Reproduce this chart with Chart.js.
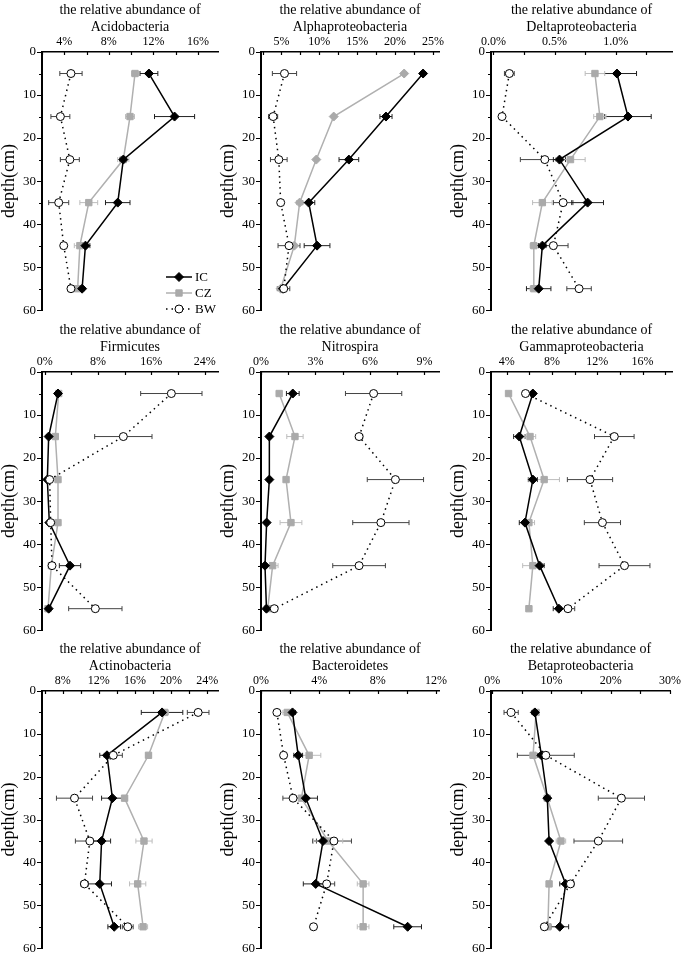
<!DOCTYPE html>
<html lang="en">
<head>
  <meta charset="UTF-8">
  <title>relative abundance by depth</title>
  <script src="https://cdn.jsdelivr.net/npm/chart.js"></script>
  <style>
    body { margin: 0; background: #ffffff; }
    #wrap { position: relative; width: 685px; height: 961px; overflow: hidden; }
    #wrap canvas { position: absolute; }
  </style>
</head>
<body>
<div id="wrap"></div>
<script>
  // sampling depths (cm)
  const depths = [5, 15, 25, 35, 45, 55];

  // Acidobacteria (%)
  const acidoIC = [11.6, 13.9, 9.3, 8.8, 5.9, 5.6];
  const acidoICerr = [0.8, 1.8, 0.3, 1.1, 0.4, 0.2];
  const acidoCZ = [10.35, 9.9, 9.3, 6.2, 5.4, 5.2];
  const acidoCZerr = [0.3, 0.4, 0.5, 0.8, 0.5, 0.3];
  const acidoBW = [4.6, 3.65, 4.5, 3.5, 3.95, 4.6];
  const acidoBWerr = [1.0, 0.85, 0.85, 0.9, 0.1, 0.3];
  const acidoTicks = [4, 8, 12, 16];

  // Alphaproteobacteria (%)
  const alphaIC = [23.7, 18.8, 13.9, 8.6, 9.7, 5.2];
  const alphaICerr = [0.3, 0.8, 1.3, 0.8, 1.7, 0.2];
  const alphaCZ = [21.2, 11.9, 9.6, 7.4, 6.7, 4.9];
  const alphaCZerr = [0.2, 0.2, 0.2, 0.4, 0.3, 0.5];
  const alphaBW = [5.4, 3.9, 4.65, 4.9, 6.0, 5.3];
  const alphaBWerr = [1.6, 0.6, 1.1, 0, 1.45, 0.8];
  const alphaTicks = [5, 10, 15, 20, 25];

  // Deltaproteobacteria (%)
  const deltaIC = [1.01, 1.10, 0.54, 0.77, 0.40, 0.37];
  const deltaICerr = [0.16, 0.19, 0.05, 0.13, 0.03, 0.1];
  const deltaCZ = [0.83, 0.87, 0.63, 0.40, 0.33, 0.33];
  const deltaCZerr = [0.08, 0.05, 0.12, 0.08, 0.03, 0.03];
  const deltaBW = [0.13, 0.07, 0.42, 0.57, 0.49, 0.70];
  const deltaBWerr = [0.04, 0.02, 0.2, 0.08, 0.12, 0.1];
  const deltaTicks = [0, 0.5, 1.0];

  // Firmicutes (%)
  const firmIC = [2.0, 0.6, 0.4, 0.7, 3.8, 0.6];
  const firmICerr = [0.3, 0.3, 0.2, 0.3, 1.6, 0.2];
  const firmCZ = [2.1, 1.6, 2.0, 2.0, 1.0, 0.5];
  const firmCZerr = [0.4, 0.3, 0.3, 0.3, 0.3, 0.3];
  const firmBW = [19.0, 11.8, 0.75, 0.9, 1.1, 7.6];
  const firmBWerr = [4.6, 4.3, 0.4, 0.3, 0.3, 4.0];
  const firmTicks = [0, 8, 16, 24];

  // Nitrospira (%)
  const nitroIC = [1.75, 0.46, 0.46, 0.31, 0.22, 0.3];
  const nitroICerr = [0.35, 0.1, 0.1, 0.1, 0.1, 0.1];
  const nitroCZ = [1.0, 1.87, 1.38, 1.65, 0.64, 0.37];
  const nitroCZerr = [0.1, 0.45, 0.1, 0.6, 0.3, 0.1];
  const nitroBW = [6.2, 5.4, 7.4, 6.6, 5.4, 0.73];
  const nitroBWerr = [1.55, 0.2, 1.55, 1.55, 1.45, 0.1];
  const nitroTicks = [0, 3, 6, 9];

  // Gammaproteobacteria (%)
  const gammaIC = [6.3, 5.1, 6.3, 5.6, 6.9, 8.6];
  const gammaICerr = [0.2, 0.5, 0.4, 0.5, 0.4, 0.5];
  const gammaCZ = [4.15, 6.05, 7.3, 5.95, 6.3, 5.95];
  const gammaCZerr = [0.2, 0.5, 1.35, 0.5, 0.9, 0.2];
  const gammaBW = [5.65, 13.5, 11.35, 12.45, 14.4, 9.4];
  const gammaBWerr = [0.1, 1.75, 2.0, 1.6, 2.25, 0.6];
  const gammaTicks = [4, 8, 12, 16];

  // Actinobacteria (%)
  const actinoIC = [19.0, 12.9, 13.5, 12.3, 12.1, 13.7];
  const actinoICerr = [2.3, 0.8, 1.2, 1.0, 1.3, 0.7];
  const actinoCZ = [19.3, 17.5, 14.85, 17.0, 16.3, 16.9];
  const actinoCZerr = [0.4, 0.3, 0.3, 0.9, 0.9, 0.5];
  const actinoBW = [23.0, 13.6, 9.3, 11.0, 10.4, 15.2];
  const actinoBWerr = [1.2, 1.0, 2.0, 1.6, 0.4, 0.6];
  const actinoTicks = [8, 12, 16, 20, 24];

  // Bacteroidetes (%)
  const bactIC = [2.16, 2.55, 3.07, 4.25, 3.75, 10.05];
  const bactICerr = [0.2, 0.3, 0.8, 0.7, 0.85, 0.95];
  const bactCZ = [1.8, 3.3, 2.77, 4.6, 7.0, 7.0];
  const bactCZerr = [0.3, 0.8, 0.5, 1.0, 0.4, 0.4];
  const bactBW = [1.09, 1.55, 2.2, 5.0, 4.5, 3.6];
  const bactBWerr = [0.2, 0.2, 0.7, 1.2, 0.55, 0];
  const bactTicks = [0, 4, 8, 12];

  // Betaproteobacteria (%)
  const betaIC = [7.2, 8.3, 9.3, 9.6, 12.4, 11.4];
  const betaICerr = [0.5, 0.6, 0.5, 0.3, 1.0, 1.5];
  const betaCZ = [7.4, 6.9, 9.3, 11.6, 9.6, 9.4];
  const betaCZerr = [0.5, 0.5, 0.3, 0.8, 0.3, 0.3];
  const betaBW = [3.2, 9.05, 21.8, 17.9, 13.2, 8.8];
  const betaBWerr = [1.2, 4.8, 3.9, 4.1, 0.6, 0.5];
  const betaTicks = [0, 10, 20, 30];

  const panels = [
    { name: 'Acidobacteria', ic: acidoIC, icErr: acidoICerr, cz: acidoCZ, czErr: acidoCZerr, bw: acidoBW, bwErr: acidoBWerr, ticks: acidoTicks, min: 2, max: 17.8, dec: 0 },
    { name: 'Alphaproteobacteria', ic: alphaIC, icErr: alphaICerr, cz: alphaCZ, czErr: alphaCZerr, bw: alphaBW, bwErr: alphaBWerr, ticks: alphaTicks, min: 2.3, max: 25.8, dec: 0, czStyle: 'rectRot' },
    { name: 'Deltaproteobacteria', ic: deltaIC, icErr: deltaICerr, cz: deltaCZ, czErr: deltaCZerr, bw: deltaBW, bwErr: deltaBWerr, ticks: deltaTicks, min: -0.02, max: 1.46, dec: 1 },
    { name: 'Firmicutes', ic: firmIC, icErr: firmICerr, cz: firmCZ, czErr: firmCZerr, bw: firmBW, bwErr: firmBWerr, ticks: firmTicks, min: -0.4, max: 26, dec: 0 },
    { name: 'Nitrospira', ic: nitroIC, icErr: nitroICerr, cz: nitroCZ, czErr: nitroCZerr, bw: nitroBW, bwErr: nitroBWerr, ticks: nitroTicks, min: 0, max: 9.8, dec: 0 },
    { name: 'Gammaproteobacteria', ic: gammaIC, icErr: gammaICerr, cz: gammaCZ, czErr: gammaCZerr, bw: gammaBW, bwErr: gammaBWerr, ticks: gammaTicks, min: 2.6, max: 18.6, dec: 0 },
    { name: 'Actinobacteria', ic: actinoIC, icErr: actinoICerr, cz: actinoCZ, czErr: actinoCZerr, bw: actinoBW, bwErr: actinoBWerr, ticks: actinoTicks, min: 5.7, max: 25.2, dec: 0 },
    { name: 'Bacteroidetes', ic: bactIC, icErr: bactICerr, cz: bactCZ, czErr: bactCZerr, bw: bactBW, bwErr: bactBWerr, ticks: bactTicks, min: 0, max: 12.2, dec: 0 },
    { name: 'Betaproteobacteria', ic: betaIC, icErr: betaICerr, cz: betaCZ, czErr: betaCZerr, bw: betaBW, bwErr: betaBWerr, ticks: betaTicks, min: -0.2, max: 30, dec: 0 }
  ];

  const FONT = "'Liberation Serif', 'Times New Roman', serif";
  // plot area edges in page pixels
  const colLeft = [42, 261, 491];
  const colRight = [218, 439, 672];
  const rowTop = [52, 372, 691];
  const rowBottom = [316, 636, 954];
  const TITLE_H = 2 + 2 * 14 * 1.2;

  function marker(ctx, style, x, y, r) {
    ctx.beginPath();
    if (style === 'circle') {
      ctx.arc(x, y, r, 0, Math.PI * 2);
    } else if (style === 'rectRot') {
      ctx.moveTo(x, y - r); ctx.lineTo(x + r, y); ctx.lineTo(x, y + r); ctx.lineTo(x - r, y); ctx.closePath();
    } else {
      const s = r * Math.SQRT1_2;
      ctx.rect(x - s, y - s, 2 * s, 2 * s);
    }
    ctx.fill();
    ctx.stroke();
  }

  // horizontal error bars with caps
  const errorBars = {
    id: 'errorBars',
    beforeDatasetsDraw(chart) {
      const ctx = chart.ctx, xs = chart.scales.x, ys = chart.scales.y;
      chart.data.datasets.forEach(ds => {
        ctx.save();
        ctx.strokeStyle = ds.errColor;
        ctx.lineWidth = 1;
        ds.data.forEach((pt, k) => {
          const e = ds.errors[k];
          if (!e) return;
          const x1 = xs.getPixelForValue(pt.x - e);
          const x2 = xs.getPixelForValue(pt.x + e);
          const y = ys.getPixelForValue(pt.y);
          ctx.beginPath();
          ctx.moveTo(x1, y); ctx.lineTo(x2, y);
          ctx.moveTo(x1, y - 2.5); ctx.lineTo(x1, y + 2.5);
          ctx.moveTo(x2, y - 2.5); ctx.lineTo(x2, y + 2.5);
          ctx.stroke();
        });
        ctx.restore();
      });
    }
  };

  function tickPlugin(p) {
    return {
      id: 'tickMarks',
      afterDraw(chart) {
        const ctx = chart.ctx, xs = chart.scales.x, ys = chart.scales.y, a = chart.chartArea;
        const step = (p.ticks[1] - p.ticks[0]) / 2;
        ctx.save();
        ctx.strokeStyle = '#000';
        ctx.lineWidth = 1.2;
        ctx.beginPath();
        for (let v = p.ticks[0] - step * Math.floor((p.ticks[0] - p.min) / step); v <= p.max + 1e-9; v += step) {
          const x = Math.round(xs.getPixelForValue(v)) + 0.5;
          ctx.moveTo(x, a.top); ctx.lineTo(x, a.top + 3);
        }
        for (let d = 0; d <= 60; d += 5) {
          const y = Math.round(ys.getPixelForValue(d)) + 0.5;
          const len = d % 10 === 0 ? 5 : 3;
          ctx.moveTo(a.left - len, y); ctx.lineTo(a.left, y);
        }
        ctx.stroke();
        ctx.restore();
      }
    };
  }

  // legend in the first panel, bottom right
  const profileLegend = {
    id: 'profileLegend',
    afterDraw(chart) {
      const ctx = chart.ctx;
      const rows = [
        { label: 'IC', y: 277, line: '#000', dash: [], style: 'rectRot', fill: '#000', stroke: '#000', r: 4.5 },
        { label: 'CZ', y: 293, line: '#b0b0b0', dash: [], style: 'rect', fill: '#aaaaaa', stroke: '#aaaaaa', r: 4.5 },
        { label: 'BW', y: 309, line: '#000', dash: [1.5, 4], style: 'circle', fill: '#fff', stroke: '#000', r: 4 }
      ];
      ctx.save();
      rows.forEach(row => {
        ctx.strokeStyle = row.line;
        ctx.lineWidth = 1.5;
        ctx.setLineDash(row.dash);
        ctx.beginPath(); ctx.moveTo(166, row.y); ctx.lineTo(192, row.y); ctx.stroke();
        ctx.setLineDash([]);
        ctx.fillStyle = row.fill;
        ctx.strokeStyle = row.stroke;
        ctx.lineWidth = 1;
        marker(ctx, row.style, 179, row.y, row.r);
        ctx.fillStyle = '#000';
        ctx.font = '13px ' + FONT;
        ctx.textBaseline = 'middle';
        ctx.textAlign = 'left';
        ctx.fillText(row.label, 195, row.y + 1);
      });
      ctx.restore();
    }
  };

  const wrap = document.getElementById('wrap');

  panels.forEach((p, i) => {
    const col = i % 3, row = Math.floor(i / 3);
    const left = colLeft[col] - 42;
    const top = rowTop[row] - 52;
    const width = colRight[col] - left + 12;
    const height = rowBottom[row] - top + 8;

    const canvas = document.createElement('canvas');
    canvas.width = width;
    canvas.height = height;
    canvas.style.left = left + 'px';
    canvas.style.top = top + 'px';
    canvas.style.width = width + 'px';
    canvas.style.height = height + 'px';
    wrap.appendChild(canvas);

    const pts = vals => vals.map((v, k) => ({ x: v, y: depths[k] }));

    const datasets = [
      {
        label: 'BW', data: pts(p.bw), errors: p.bwErr, errColor: '#444',
        showLine: true, borderColor: '#000', borderWidth: 1.5, borderDash: [1.5, 4],
        pointStyle: 'circle', pointRadius: 4, pointBackgroundColor: '#fff', pointBorderColor: '#000', pointBorderWidth: 1,
        clip: false
      },
      {
        label: 'IC', data: pts(p.ic), errors: p.icErr, errColor: '#222',
        showLine: true, borderColor: '#000', borderWidth: 1.5,
        pointStyle: 'rectRot', pointRadius: 4.5, pointBackgroundColor: '#000', pointBorderColor: '#000', pointBorderWidth: 1,
        clip: false
      },
      {
        label: 'CZ', data: pts(p.cz), errors: p.czErr, errColor: '#bdbdbd',
        showLine: true, borderColor: '#b0b0b0', borderWidth: 1.5,
        pointStyle: p.czStyle || 'rect', pointRadius: 4.5, pointBackgroundColor: '#aaaaaa', pointBorderColor: '#aaaaaa', pointBorderWidth: 1,
        clip: false
      }
    ];

    const plugins = [errorBars, tickPlugin(p)];
    if (i === 0) plugins.push(profileLegend);

    new Chart(canvas, {
      type: 'scatter',
      data: { datasets },
      options: {
        responsive: false,
        animation: false,
        devicePixelRatio: 1,
        layout: { padding: { left: 0, right: 12, top: 0, bottom: 8 } },
        plugins: {
          legend: { display: false },
          tooltip: { enabled: false },
          title: {
            display: true,
            fullSize: false,
            text: ['the relative abundance of', p.name],
            color: '#000',
            font: { family: FONT, size: 14, weight: 'normal', lineHeight: 1.2 },
            padding: { top: 2, bottom: 0 }
          }
        },
        scales: {
          x: {
            type: 'linear',
            position: 'top',
            min: p.min,
            max: p.max,
            grid: { display: false, drawTicks: false },
            border: { color: '#000', width: 1.5 },
            afterBuildTicks: s => { s.ticks = p.ticks.map(v => ({ value: v })); },
            afterFit: s => { s.height = 52 - TITLE_H; },
            ticks: {
              color: '#000',
              font: { family: FONT, size: 12 },
              padding: 3,
              maxRotation: 0,
              autoSkip: false,
              callback: v => Number(v).toFixed(p.dec) + '%'
            }
          },
          y: {
            type: 'linear',
            reverse: true,
            min: 0,
            max: 60,
            grid: { display: false, drawTicks: false },
            border: { color: '#000', width: 2 },
            afterFit: s => { s.width = 42; },
            ticks: { stepSize: 10, color: '#000', font: { family: FONT, size: 13 }, padding: 6 },
            title: { display: true, text: 'depth(cm)', color: '#000', font: { family: FONT, size: 18, lineHeight: 1 }, padding: 0 }
          }
        }
      },
      plugins: plugins
    });
  });
</script>
</body>
</html>
